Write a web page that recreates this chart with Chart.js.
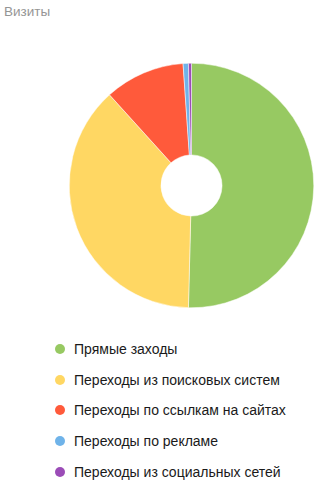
<!DOCTYPE html>
<html>
<head>
<meta charset="utf-8">
<script src="https://cdn.jsdelivr.net/npm/chart.js@4/dist/chart.umd.min.js"></script>
<style>
  html, body { margin: 0; padding: 0; background: #fff; }
  body { width: 326px; height: 500px; position: relative; overflow: hidden; font-family: "Liberation Sans", Arial, sans-serif; }
  #title { position: absolute; left: 4px; top: 4px; font-size: 13.5px; color: #959595; }
  #wrap { position: absolute; left: 69px; top: 63px; width: 245px; height: 245px; }
  #legend { position: absolute; left: 55px; top: 334px; margin: 0; padding: 0; list-style: none; }
  #legend li { height: 30.6px; display: flex; align-items: center; font-size: 14px; color: #1a1a1a; }
  #legend span.dot { display: inline-block; width: 10px; height: 10px; border-radius: 50%; margin-right: 9px; }
</style>
</head>
<body>
<div id="title">Визиты</div>
<div id="wrap"><canvas id="c"></canvas></div>
<ul id="legend"></ul>
<script>
const categories = ["Прямые заходы", "Переходы из поисковых систем", "Переходы по ссылкам на сайтах", "Переходы по рекламе", "Переходы из социальных сетей"];
const visits = [50.4, 37.9, 10.6, 0.7, 0.4];
const colors = ["#97c962", "#ffd763", "#ff5a3b", "#6fb3e9", "#9b4cb7"];

new Chart(document.getElementById('c'), {
  type: 'doughnut',
  data: {
    labels: categories,
    datasets: [{ data: visits, backgroundColor: colors, borderWidth: 0.5, borderColor: '#fff' }]
  },
  options: {
    responsive: true,
    maintainAspectRatio: false,
    animation: false,
    cutout: '25%',
    layout: { padding: 0 },
    plugins: { legend: { display: false }, tooltip: { enabled: false } }
  }
});

const ul = document.getElementById('legend');
categories.forEach((name, i) => {
  const li = document.createElement('li');
  const dot = document.createElement('span');
  dot.className = 'dot';
  dot.style.background = colors[i];
  li.appendChild(dot);
  li.appendChild(document.createTextNode(name));
  ul.appendChild(li);
});
</script>
</body>
</html>
